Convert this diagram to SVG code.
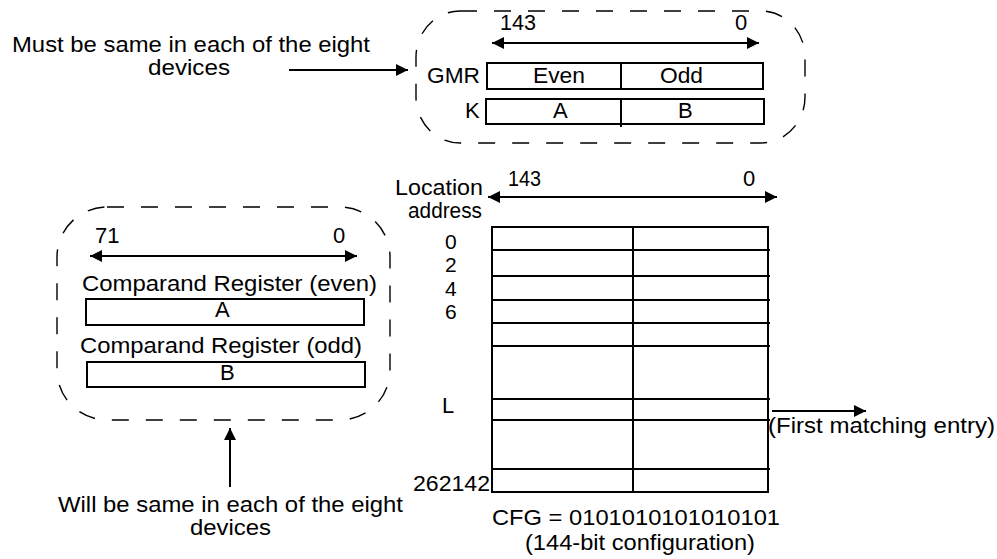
<svg xmlns="http://www.w3.org/2000/svg" width="997" height="559" viewBox="0 0 997 559">
<style>
text{font-family:"Liberation Sans",Arial,sans-serif;font-size:22px;fill:#000}
.d{font-size:21px}
.dash{fill:none;stroke:#000;stroke-width:1.4;stroke-dasharray:17 17}
.box{fill:#fff;stroke:#000;stroke-width:2}
.ln{stroke:#000;stroke-width:2;fill:none}
.arr{stroke:#000;stroke-width:2;fill:none;marker-end:url(#ah)}
.dbl{stroke:#000;stroke-width:2;fill:none;marker-end:url(#ah);marker-start:url(#ah)}
</style>
<defs>
<marker id="ah" viewBox="0 0 12 12" refX="12" refY="6" markerWidth="12" markerHeight="12" markerUnits="userSpaceOnUse" orient="auto-start-reverse">
<path d="M0,0 L12,6 L0,12 z" fill="#000"/>
</marker>
</defs>
<rect width="997" height="559" fill="#fff"/>

<g id="global-mask">
<rect class="dash" x="416" y="11" width="389" height="132" rx="44" ry="46"/>
<text x="500" y="30" textLength="36" lengthAdjust="spacingAndGlyphs">143</text>
<text x="735" y="30">0</text>
<text x="427" y="83" textLength="53" lengthAdjust="spacingAndGlyphs">GMR</text>
<rect class="box" x="487" y="63" width="276" height="26"/>
<line class="ln" x1="621" y1="63" x2="621" y2="89"/>
<text x="533" y="83" textLength="52" lengthAdjust="spacingAndGlyphs">Even</text>
<text x="660" y="83" textLength="43" lengthAdjust="spacingAndGlyphs">Odd</text>
<text x="465" y="118">K</text>
<rect class="box" x="486" y="99" width="278" height="25"/>
<line class="ln" x1="621" y1="99" x2="621" y2="127"/>
<text x="553" y="118">A</text>
<text x="678" y="118">B</text>
</g>

<g id="comparand">
<rect class="dash" x="57" y="207" width="333" height="213" rx="50" ry="50"/>
<text x="95" y="243">71</text>
<text x="333" y="243">0</text>
<text x="82" y="291" textLength="295" lengthAdjust="spacingAndGlyphs">Comparand Register (even)</text>
<rect class="box" x="86" y="299" width="278" height="26"/>
<text x="215" y="317">A</text>
<text x="80" y="353" textLength="282" lengthAdjust="spacingAndGlyphs">Comparand Register (odd)</text>
<rect class="box" x="87" y="362" width="278" height="25"/>
<text x="220" y="380">B</text>
</g>

<g id="memory-array">
<text x="395" y="195" textLength="88" lengthAdjust="spacingAndGlyphs">Location</text>
<text x="408" y="218" textLength="74" lengthAdjust="spacingAndGlyphs">address</text>
<text x="508" y="186" textLength="33" lengthAdjust="spacingAndGlyphs">143</text>
<text x="743" y="186">0</text>
<text class="d" x="445" y="249">0</text>
<text class="d" x="445" y="272">2</text>
<text class="d" x="445" y="296">4</text>
<text class="d" x="445" y="319">6</text>
<text x="442" y="413">L</text>
<text x="413" y="491" textLength="77" lengthAdjust="spacingAndGlyphs">262142</text>
<rect class="box" x="492" y="227" width="276" height="265"/>
<line class="ln" x1="633" y1="227" x2="633" y2="492"/>
<path class="ln" d="M491,250H770M491,276H770M491,300H770M491,323H770M491,346H770M491,399H770M491,420H770M491,469H770"/>
<text x="492" y="525" textLength="288" lengthAdjust="spacingAndGlyphs">CFG = 0101010101010101</text>
<text x="525" y="550" textLength="230" lengthAdjust="spacingAndGlyphs">(144-bit configuration)</text>
</g>

<g id="note-top">
<text x="12" y="52" textLength="358" lengthAdjust="spacingAndGlyphs">Must be same in each of the eight</text>
<text x="148" y="75" textLength="82" lengthAdjust="spacingAndGlyphs">devices</text>
</g>

<g id="note-bottom">
<text x="58" y="512" textLength="345" lengthAdjust="spacingAndGlyphs">Will be same in each of the eight</text>
<text x="190" y="535" textLength="81" lengthAdjust="spacingAndGlyphs">devices</text>
</g>

<g id="note-match">
<text x="768" y="433" textLength="227" lengthAdjust="spacingAndGlyphs">(First matching entry)</text>
</g>

<g id="connectors">
<line class="dbl" x1="492" y1="43" x2="759" y2="43"/>
<line class="dbl" x1="488" y1="197" x2="777" y2="197"/>
<line class="dbl" x1="90" y1="256" x2="357" y2="256"/>
<line class="arr" x1="289" y1="70" x2="408" y2="70"/>
<line class="arr" x1="230" y1="487" x2="230" y2="428"/>
<line class="arr" x1="772" y1="411" x2="866" y2="411"/>
</g>
</svg>
